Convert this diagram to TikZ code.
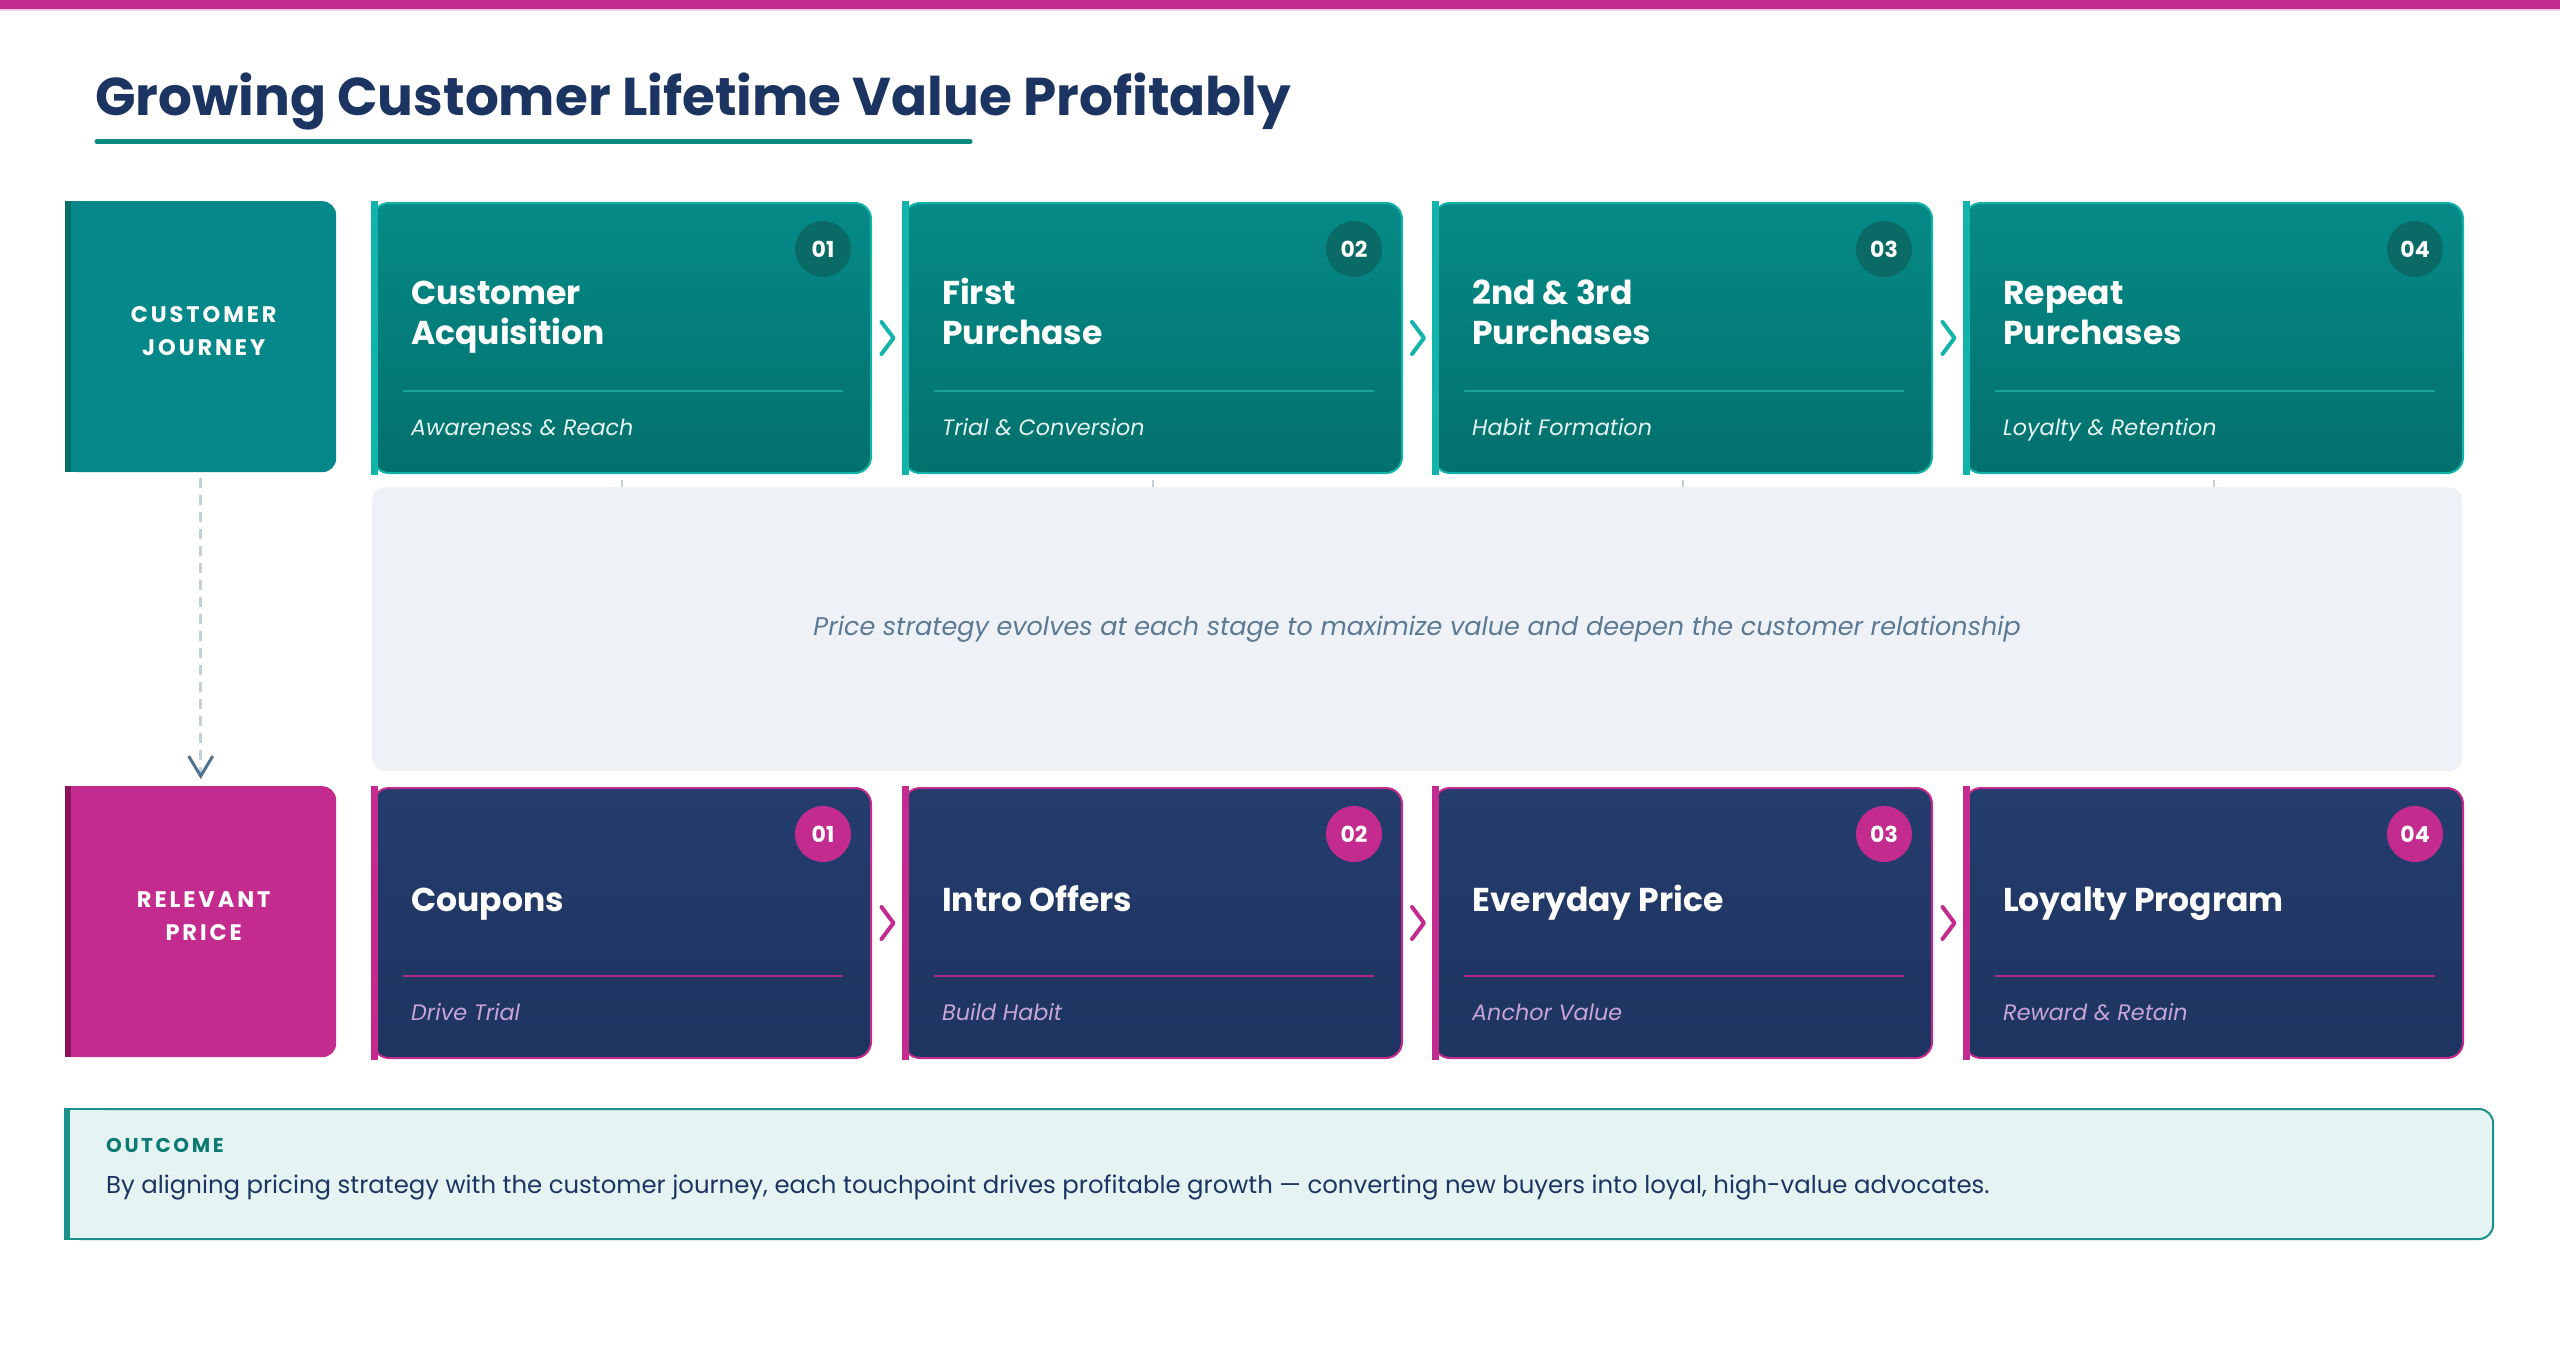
\documentclass[tikz,border=0pt]{standalone}
\usepackage{fontspec}
\setmainfont{Poppins}
\newfontfamily\popsp{Poppins}[LetterSpace=13]
\usetikzlibrary{calc,arrows.meta}
\definecolor{mag}{HTML}{C42B8E}
\definecolor{magdark}{HTML}{8E1260}
\definecolor{magdiv}{HTML}{B02A85}
\definecolor{pinkline}{HTML}{F3C9E0}
\definecolor{navytext}{HTML}{1C3461}
\definecolor{tlbox}{HTML}{06878A}
\definecolor{tldark}{HTML}{0A6E69}
\definecolor{tltop}{HTML}{058A88}
\definecolor{tlbot}{HTML}{03706C}
\definecolor{tllight}{HTML}{12B3AB}
\definecolor{tlbadge}{HTML}{0A6B66}
\definecolor{tldiv}{HTML}{1AA29C}
\definecolor{tlsub}{HTML}{E3F4F2}
\definecolor{tlline}{HTML}{0B8A82}
\definecolor{nvtop}{HTML}{253D6D}
\definecolor{nvbot}{HTML}{1E3461}
\definecolor{pvsub}{HTML}{C8A5D6}
\definecolor{panelfill}{HTML}{EEF2F7}
\definecolor{paneltext}{HTML}{5B7994}
\definecolor{tickgray}{HTML}{C5CFD9}
\definecolor{dashcol}{HTML}{BFD0DF}
\definecolor{slate}{HTML}{52708F}
\definecolor{outfill}{HTML}{E5F4F3}
\definecolor{outborder}{HTML}{1A918B}
\definecolor{outhead}{HTML}{0A7A73}
\tikzset{
  jcard/.style={rectangle, rounded corners=16pt, minimum width=498pt, minimum height=270pt,
    top color=tltop, bottom color=tlbot, draw=tllight, line width=2pt, inner sep=0pt},
  pcard/.style={rectangle, rounded corners=16pt, minimum width=498pt, minimum height=270pt,
    top color=nvtop, bottom color=nvbot, draw=mag, line width=2pt, inner sep=0pt},
  jstrip/.style={fill=tllight},
  pstrip/.style={fill=mag},
  jbadge/.style={circle, fill=tlbadge, minimum size=56pt, inner sep=0pt, text=white, font=\fontsize{22}{26}\selectfont\bfseries},
  pbadge/.style={circle, fill=mag, minimum size=56pt, inner sep=0pt, text=white, font=\fontsize{22}{26}\selectfont\bfseries},
  cardtitle/.style={text=white, font=\fontsize{33}{40}\selectfont\bfseries, align=left, inner sep=0pt},
  jdiv/.style={draw=tldiv, line width=2.5pt},
  pdiv/.style={draw=magdiv, line width=2.5pt},
  jsub/.style={text=tlsub, font=\fontsize{22.3}{27}\selectfont\itshape, inner sep=0pt},
  psub/.style={text=pvsub, font=\fontsize{22.3}{27}\selectfont\itshape, inner sep=0pt},
  jchev/.style={draw=tllight, line width=4pt, line cap=round, line join=round},
  pchev/.style={draw=mag, line width=4pt, line cap=round, line join=round},
  lblbox/.style={rectangle, rounded corners=14pt, minimum width=271pt, minimum height=271pt, inner sep=0pt,
    text=white, align=center, font=\fontsize{22.5}{33}\selectfont\popsp\bfseries},
  tickline/.style={draw=tickgray, line width=1.5pt},
}
\newcommand\mycard[8]{%
  \node[#4card, anchor=north west] (#1) at (#2,#3) {};
  \fill[#4strip] ($(#1.north west)+(-1,-1)$) rectangle ($(#1.south west)+(6,1)$);
  \node[#4badge] (#1n) at ($(#1.north east)+(-49,47)$) {#5};
  \node[cardtitle, anchor=base west] (#1t) at ($(#1.north west)+(39,#8)$) {#6};
  \draw[#4div] ($(#1.north west)+(31,189)$) -- ($(#1.north east)+(-29,189)$);
  \node[#4sub, anchor=base west] (#1s) at ($(#1.north west)+(39,233)$) {#7};
}
\begin{document}
\begin{tikzpicture}[x=1pt,y=-1pt]
\useasboundingbox (0,0) rectangle (2560,1353);
\fill[white] (0,0) rectangle (2560,1353);
% top bar
\fill[mag] (0,0) rectangle (2560,9);
\fill[pinkline] (0,9) rectangle (2560,11);
% title
\node[anchor=base west, inner sep=0pt, text=navytext, font=\fontsize{53.2}{60}\selectfont\bfseries] (title) at (95,115) {Growing Customer Lifetime Value Profitably};
\draw[tlline, line width=5pt, line cap=round] (97,141.5) -- (970,141.5);

% label boxes
\node[lblbox, fill=tlbox, anchor=north west] (lbJ) at (65,201) {};
\fill[tlbox] (lbJ.north west) rectangle ($(lbJ.south west)+(20,0)$);
\fill[tldark] (lbJ.north west) rectangle ($(lbJ.south west)+(6,0)$);
\node[lblbox, anchor=center] (lbJt) at ($(lbJ.center)+(3,-6)$) {CUSTOMER\\JOURNEY};

\node[lblbox, fill=mag, anchor=north west] (lbP) at (65,786) {};
\fill[mag] (lbP.north west) rectangle ($(lbP.south west)+(20,0)$);
\fill[magdark] (lbP.north west) rectangle ($(lbP.south west)+(6,0)$);
\node[lblbox, anchor=center] (lbPt) at ($(lbP.center)+(3,-6)$) {RELEVANT\\PRICE};

% journey cards
\mycard{cA}{372}{202}{j}{01}{Customer\\Acquisition}{Awareness \& Reach}{142}
\mycard{cB}{903}{202}{j}{02}{First\\Purchase}{Trial \& Conversion}{142}
\mycard{cC}{1433}{202}{j}{03}{2nd \& 3rd\\Purchases}{Habit Formation}{142}
\mycard{cD}{1964}{202}{j}{04}{Repeat\\Purchases}{Loyalty \& Retention}{142}

% price cards
\mycard{pA}{372}{787}{p}{01}{Coupons}{Drive Trial}{124}
\mycard{pB}{903}{787}{p}{02}{Intro Offers}{Build Habit}{124}
\mycard{pC}{1433}{787}{p}{03}{Everyday Price}{Anchor Value}{124}
\mycard{pD}{1964}{787}{p}{04}{Loyalty Program}{Reward \& Retain}{124}

% chevrons
\foreach \a/\b/\s in {cA/cB/j,cB/cC/j,cC/cD/j,pA/pB/p,pB/pC/p,pC/pD/p}{
  \coordinate (g\a) at ($(\a.east)!0.5!(\b.west)$);
  \draw[\s chev] ($(g\a)+(-6,-16)$) -- ($(g\a)+(6,0)$) -- ($(g\a)+(-6,16)$);
}

% middle panel
\node[rectangle, rounded corners=13pt, fill=panelfill, minimum width=2090pt, minimum height=284pt, anchor=north west, inner sep=0pt] (mid) at (372,487) {};
\node[text=paneltext, font=\fontsize{25.5}{30}\selectfont\itshape, inner sep=0pt] (midt) at (mid.center) {Price strategy evolves at each stage to maximize value and deepen the customer relationship};

% ticks
\foreach \c in {cA,cB,cC,cD}{
  \draw[tickline] ([yshift=-6pt]\c.south) -- (\c.south |- mid.north);
}

% dashed connector
\draw[draw=dashcol, line width=2.5pt, dash pattern=on 10pt off 7pt,
  -{Straight Barb[color=slate, length=20pt, width=24pt, line width=3pt]}]
  ([yshift=-6pt]lbJ.south) -- ([yshift=7pt]lbP.north);

% outcome box
\node[rectangle, rounded corners=14pt, fill=outfill, draw=outborder, line width=2pt, outer sep=0pt,
  minimum width=2428pt, minimum height=130pt, anchor=north west, inner sep=0pt] (outbox) at (65,1109) {};
\fill[outfill] ($(outbox.north west)+(0,-1)$) rectangle ($(outbox.south west)+(40,1)$);
\draw[outborder, line width=2pt] (outbox.north west) -- ++(40,0);
\draw[outborder, line width=2pt] (outbox.south west) -- ++(40,0);
\fill[outborder] ($(outbox.north west)+(-1,-1)$) rectangle ($(outbox.south west)+(5,1)$);
\node[anchor=base west, inner sep=0pt, text=outhead, font=\fontsize{20}{24}\selectfont\popsp\bfseries] (outh) at (106,1152) {OUTCOME};
\node[anchor=base west, inner sep=0pt, text=navytext, font=\fontsize{24.4}{30}\selectfont] (outb) at (106,1193) {By aligning pricing strategy with the customer journey, each touchpoint drives profitable growth — converting new buyers into loyal, high-value advocates.};
\end{tikzpicture}
\end{document}
